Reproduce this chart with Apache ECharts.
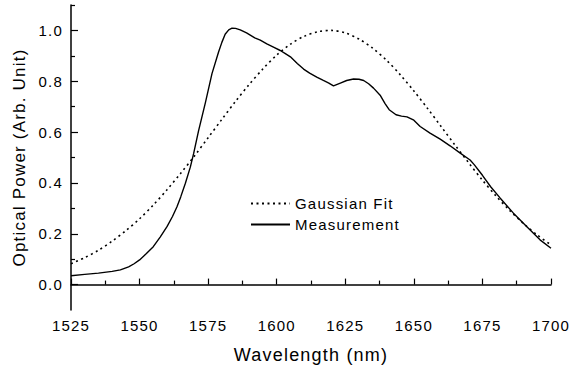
<!DOCTYPE html>
<html>
<head>
<meta charset="utf-8">
<script src="https://cdn.jsdelivr.net/npm/echarts@6/dist/echarts.min.js"></script>
<style>
  html, body { margin: 0; padding: 0; background: #fff; }
  #chart { width: 572px; height: 370px; }
  /* the original plot uses loosely tracked Arial */
  #chart text { letter-spacing: 1.2px; }
</style>
</head>
<body>
<div id="chart"></div>
<script>
// wavelength (nm) / normalised power
var fitWavelength = [1525, 1530, 1535, 1540, 1545, 1550, 1555, 1560, 1565, 1570, 1575, 1580,
  1585, 1590, 1595, 1600, 1605, 1610, 1615, 1620, 1625, 1630, 1635, 1640, 1645, 1650,
  1655, 1660, 1665, 1670, 1675, 1680, 1685, 1690, 1695, 1700];
var fitPower = [0.082, 0.106, 0.135, 0.171, 0.212, 0.259, 0.313, 0.373, 0.438, 0.506, 0.578, 0.650,
  0.721, 0.788, 0.849, 0.903, 0.946, 0.977, 0.995, 1.000, 0.990, 0.966, 0.930, 0.883, 0.826, 0.762,
  0.693, 0.621, 0.549, 0.479, 0.411, 0.348, 0.291, 0.240, 0.195, 0.156];

var measWavelength = [1525, 1530, 1535, 1540, 1543, 1546, 1548, 1550, 1552.5, 1555, 1557.5, 1560,
  1562, 1563.6, 1565, 1566.7, 1568.5, 1569.7, 1571.5, 1574, 1576.4, 1578.8, 1580, 1581.2, 1582.5,
  1583.7, 1585, 1586.7, 1589, 1592, 1594, 1596.4, 1599, 1601.3, 1603, 1605, 1607.5, 1609.8, 1612,
  1614.6, 1617, 1619, 1620.7, 1623.2, 1625.5, 1628, 1630, 1631.7, 1633.5, 1635.3, 1637.7, 1639.5,
  1641, 1643.5, 1645.5, 1647.5, 1650, 1652.3, 1655.9, 1659.6, 1663.2, 1666.9, 1670.5, 1672, 1675,
  1678, 1681.5, 1686.3, 1691.2, 1696, 1700];
var measPower = [0.035, 0.040, 0.045, 0.052, 0.058, 0.070, 0.082, 0.097, 0.122, 0.149, 0.187, 0.228,
  0.268, 0.305, 0.345, 0.399, 0.462, 0.515, 0.605, 0.716, 0.830, 0.915, 0.953, 0.985, 1.002,
  1.009, 1.008, 1.002, 0.990, 0.971, 0.962, 0.947, 0.933, 0.921, 0.910, 0.896, 0.870, 0.848, 0.832,
  0.816, 0.803, 0.793, 0.782, 0.793, 0.803, 0.809, 0.808, 0.803, 0.790, 0.773, 0.745, 0.712,
  0.688, 0.668, 0.663, 0.660, 0.647, 0.622, 0.596, 0.572, 0.546, 0.517, 0.490, 0.472, 0.430,
  0.385, 0.340, 0.281, 0.228, 0.176, 0.143];

var xTicks = [1525, 1550, 1575, 1600, 1625, 1650, 1675, 1700];
var yMajor = [0.0, 0.2, 0.4, 0.6, 0.8, 1.0];
var yMinor = [0.1, 0.3, 0.5, 0.7, 0.9, 1.1];

function zip(xs, ys) {
  var out = [];
  for (var i = 0; i < xs.length; i++) out.push([xs[i], ys[i]]);
  return out;
}

var font = 'Liberation Sans, Arial, sans-serif';
var ink = '#000';

var chart = echarts.init(document.getElementById('chart'), null, {renderer: 'svg'});

chart.setOption({
  animation: false,
  backgroundColor: '#fff',
  grid: {left: 71, right: 21, top: 5, bottom: 60, containLabel: false},
  legend: {
    orient: 'vertical',
    left: 250,
    top: 196,
    padding: 0,
    itemWidth: 39,
    itemHeight: 14,
    itemGap: 6,
    itemStyle: {opacity: 0},
    textStyle: {color: ink, fontSize: 15, fontFamily: font},
    data: ['Gaussian Fit', 'Measurement']
  },
  xAxis: {
    type: 'value',
    min: 1525,
    max: 1700,
    interval: 25,
    name: 'Wavelength (nm)',
    nameLocation: 'middle',
    nameGap: 36,
    nameTextStyle: {color: ink, fontSize: 18, fontFamily: font},
    axisLine: {lineStyle: {color: ink, width: 1.5}},
    axisTick: {inside: true, length: 6, lineStyle: {color: ink, width: 1.2}},
    minorTick: {show: true, splitNumber: 2, length: 4, lineStyle: {color: ink, width: 1.2}},
    axisLabel: {
      color: ink, fontSize: 15, fontFamily: font, margin: 8,
      customValues: xTicks,
      formatter: function (v) { return String(v); }
    },
    splitLine: {show: false}
  },
  yAxis: [{
    type: 'value',
    min: -0.1,
    max: 1.1,
    interval: 0.1,
    axisLine: {show: true, lineStyle: {color: ink, width: 1.5}},
    axisTick: {inside: true, length: 4, customValues: yMinor, lineStyle: {color: ink, width: 1.2}},
    axisLabel: {show: false},
    splitLine: {show: false}
  }, {
    type: 'value',
    min: -0.1,
    max: 1.1,
    interval: 0.1,
    position: 'left',
    name: 'Optical Power (Arb. Unit)',
    nameLocation: 'middle',
    nameGap: 43,
    nameTextStyle: {color: ink, fontSize: 17, fontFamily: font},
    axisLine: {show: false},
    axisTick: {show: true, inside: true, length: 7, customValues: yMajor, lineStyle: {color: ink, width: 1.2}},
    axisLabel: {
      color: ink, fontSize: 15, fontFamily: font, margin: 8,
      customValues: yMajor,
      formatter: function (v) { return v.toFixed(1); }
    },
    splitLine: {show: false}
  }],
  series: [{
    name: 'Gaussian Fit',
    type: 'line',
    yAxisIndex: 0,
    symbol: 'none',
    smooth: 0.3,
    lineStyle: {color: ink, width: 1.6, type: [2, 3.5]},
    itemStyle: {color: ink},
    data: zip(fitWavelength, fitPower)
  }, {
    name: 'Measurement',
    type: 'line',
    yAxisIndex: 0,
    symbol: 'none',
    smooth: false,
    lineStyle: {color: ink, width: 1.4, join: 'round'},
    itemStyle: {color: ink},
    data: zip(measWavelength, measPower)
  }]
});
</script>
</body>
</html>
